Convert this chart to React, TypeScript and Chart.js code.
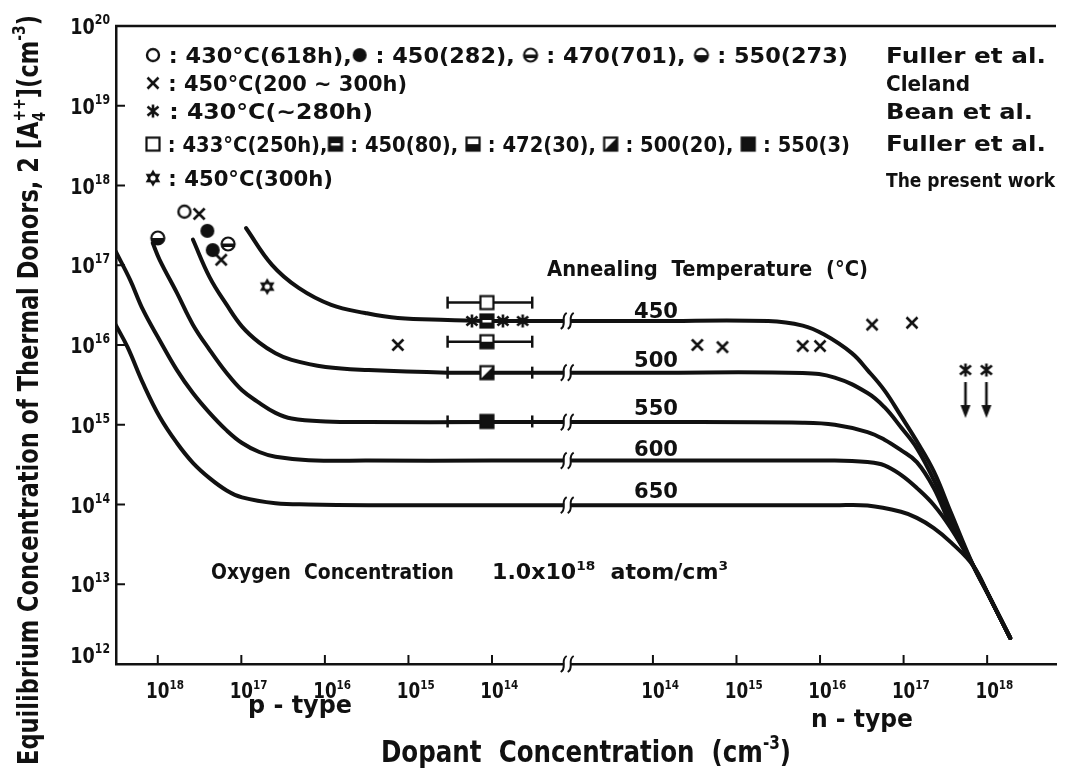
import React, { useEffect, useRef } from 'react';
import { Chart, registerables } from 'chart.js';

Chart.register(...registerables);

const W = 1065;
const H = 773;
const INK = '#111';
const FONT = '"DejaVu Sans", "Liberation Sans", sans-serif';

// ---------- axis layout (decade units along x) ----------
const P_TICK_EXP = [18, 17, 16, 15, 14];
const N_TICK_EXP = [14, 15, 16, 17, 18];
const Y_TICK_EXP = [12, 13, 14, 15, 16, 17, 18, 19, 20];
const N_OFFSET = 5.926; // axis position of n-type 10^14
const BREAK_POS = 4.9; // axis break between p- and n-type
const X_MIN = -0.5;
const X_MAX = 10.75;
const pX = (N: number) => 18 - Math.log10(N);
const nX = (N: number) => N_OFFSET + Math.log10(N) - 14;

// ---------- curves: [dopant concentration, equilibrium concentration] ----------
const CURVE_LABELS = ['450', '500', '550', '600', '650'];
const C450_P = [[8.8e16, 2.93e17], [4.3e16, 1.01e17], [2.06e16, 5.19e16], [8.4e15, 3.18e16], [3.3e15, 2.52e16], [1.34e15, 2.18e16], [3.4e14, 2.06e16], [1e14, 2.0e16]];
const C450_N = [[1e14, 2.0e16], [2.4e15, 2.0e16], [6.2e15, 1.75e16], [1.12e16, 1.35e16], [2.4e16, 7.9e15], [3.7e16, 4.85e15], [5.9e16, 2.7e15], [9.3e16, 1.29e15], [1.44e17, 6.2e14], [2.3e17, 2.6e14], [3.66e17, 8.05e13], [6.86e17, 1.69e13], [1.04e18, 7.3e12], [1.89e18, 2.12e12]];
const C500_P = [[3.8e17, 2.1e17], [2.4e17, 7.1e16], [1.5e17, 3.2e16], [9.8e16, 1.7e16], [6.1e16, 1.07e16], [3.9e16, 7.9e15], [2.5e16, 6.5e15], [9.8e15, 5.3e15], [3.0e15, 4.85e15], [3.4e14, 4.5e15], [1e14, 4.5e15]];
const C500_N = [[1e14, 4.5e15], [6.2e15, 4.45e15], [1.5e16, 3.9e15], [3.7e16, 2.5e15], [5.9e16, 1.66e15], [9.3e16, 9.3e14], [1.44e17, 5.1e14], [2.3e17, 2.03e14], [3.66e17, 6.76e13], [6.86e17, 1.69e13], [1.04e18, 7.3e12], [1.89e18, 2.12e12]];
const C550_P = [[1.15e18, 1.9e17], [9.5e17, 1.17e17], [5.9e17, 4.5e16], [3.8e17, 1.8e16], [2.4e17, 8.7e15], [1.5e17, 4.45e15], [9.8e16, 2.7e15], [6.1e16, 1.88e15], [3.9e16, 1.41e15], [2.5e16, 1.2e15], [9.8e15, 1.1e15], [3.0e15, 1.08e15], [1e14, 1.08e15]];
const C550_N = [[1e14, 1.08e15], [6.2e15, 1.06e15], [1.5e16, 1.0e15], [3.7e16, 8.1e14], [5.9e16, 6.5e14], [9.3e16, 4.8e14], [1.44e17, 3.4e14], [2.3e17, 1.61e14], [3.66e17, 5.5e13], [6.86e17, 1.69e13], [1.04e18, 7.3e12], [1.89e18, 2.12e12]];
const C600_P = [[3.2e18, 1.5e17], [2.15e18, 6.6e16], [1.5e18, 2.75e16], [9.5e17, 1.15e16], [5.9e17, 4.85e15], [3.8e17, 2.5e15], [2.4e17, 1.41e15], [1.5e17, 8.5e14], [9.8e16, 5.9e14], [6.1e16, 4.55e14], [3.9e16, 3.97e14], [1.56e16, 3.6e14], [3.0e15, 3.55e14], [1e14, 3.55e14]];
const C600_N = [[1e14, 3.55e14], [1.5e16, 3.55e14], [3.7e16, 3.4e14], [5.9e16, 3.1e14], [9.3e16, 2.35e14], [1.44e17, 1.61e14], [2.3e17, 9.86e13], [3.66e17, 5.07e13], [6.86e17, 1.69e13], [1.04e18, 7.3e12], [1.89e18, 2.12e12]];
const C650_P = [[3.2e18, 1.8e16], [2.3e18, 9.4e15], [1.5e18, 3.3e15], [9.5e17, 1.26e15], [5.9e17, 5.9e14], [3.8e17, 3.33e14], [2.4e17, 2.14e14], [1.5e17, 1.5e14], [9.8e16, 1.23e14], [3.9e16, 1.04e14], [1.56e16, 1.0e14], [3.0e15, 9.8e13], [1e14, 9.8e13]];
const C650_N = [[1e14, 9.8e13], [1.5e16, 9.8e13], [3.7e16, 9.7e13], [9.3e16, 8.1e13], [1.44e17, 6.8e13], [2.3e17, 5.07e13], [3.66e17, 3.38e13], [6.86e17, 1.69e13], [1.04e18, 7.3e12], [1.89e18, 2.12e12]];
const CURVES_P = [C450_P, C500_P, C550_P, C600_P, C650_P];
const CURVES_N = [C450_N, C500_N, C550_N, C600_N, C650_N];

// ---------- measured points ----------
const FULLER430_P = [[4.8e17, 4.7e17]];
const FULLER450_P = [[2.55e17, 2.7e17], [2.2e17, 1.55e17]];
const FULLER470_P = [[1.44e17, 1.85e17]];
const FULLER550_P = [[1.0e18, 2.2e17]];
const CLELAND_P = [[3.2e17, 4.4e17], [1.74e17, 1.17e17], [1.34e15, 1.0e16]];
const CLELAND_N = [[3.4e14, 1.0e16], [6.8e14, 9.4e15], [6.2e15, 9.7e15], [1.0e16, 9.7e15], [4.2e16, 1.8e16], [1.26e17, 1.9e16]];
const BEAN_P = [[1.74e14, 2.0e16], [7.4e13, 2.0e16], [4.3e13, 2.0e16]];
const BEAN_N_UPPER = [[5.5e17, 4.85e15], [9.8e17, 4.85e15]];
const SQ433_P = [[1.15e14, 3.4e16]];
const SQ450_P = [[1.15e14, 2.0e16]];
const SQ472_P = [[1.15e14, 1.1e16]];
const SQ500_P = [[1.15e14, 4.5e15]];
const SQ550_P = [[1.15e14, 1.1e15]];
const ERR_RANGE_P = [3.4e14, 3.3e13];
const ERR_VALUES = [3.4e16, 1.1e16, 4.5e15, 1.1e15];
const PRESENT_P = [[4.9e16, 5.4e16]];

// ---------- text ----------
const LEGEND_LINES: any[] = [
  [{ s: 'openCircle' }, ' : 430°C(618h),', { s: 'filledCircle' }, ' : 450(282), ', { s: 'circle470' }, ' : 470(701), ', { s: 'circle550' }, ' : 550(273)'],
  [{ s: 'cross' }, ' : 450°C(200 ∼ 300h)'],
  [{ s: 'asterisk' }, ' : 430°C(∼280h)'],
  [{ s: 'sqOpen' }, ' : 433°C(250h),', { s: 'sq450' }, ' : 450(80), ', { s: 'sq472' }, ' : 472(30), ', { s: 'sq500' }, ' : 500(20), ', { s: 'sq550' }, ' : 550(3)'],
  [{ s: 'hexagram' }, ' : 450°C(300h)'],
];
const LEGEND_BASE = [63, 91, 119, 152, 186];
const LEGEND_WIDTH = [703, 262, 228, 705, 188];
const SOURCES = ['Fuller et al.', 'Cleland', 'Bean et al.', 'Fuller et al.', 'The present work'];
const SOURCE_WIDTH = [160, 84, 147, 160, 169];
const SOURCE_BASE = [63, 91, 119, 151, 187];
const CURVE_LABEL_BASE = [318, 367, 415, 456, 498];

// ---------- rich text helpers ----------
function parse(str: string) {
  const out: any[] = [];
  str.split(/(\^\{[^}]*\}|_\{[^}]*\})/).forEach((p) => {
    if (!p) return;
    if (p.startsWith('^{')) out.push({ t: p.slice(2, -1), k: 'sup' });
    else if (p.startsWith('_{')) out.push({ t: p.slice(2, -1), k: 'sub' });
    else out.push({ t: p, k: '' });
  });
  return out;
}
function layoutRich(ctx: CanvasRenderingContext2D, str: string, size: number) {
  const segs = parse(str);
  const items: any[] = [];
  let x = 0;
  let prevSub: any = null;
  for (const s of segs) {
    const fs = s.k ? size * 0.62 : size;
    ctx.font = `bold ${fs}px ${FONT}`;
    const w = ctx.measureText(s.t).width;
    const dy = s.k === 'sup' ? -size * 0.45 : s.k === 'sub' ? size * 0.25 : 0;
    if (s.k === 'sup' && prevSub) {
      items.push({ ...s, fs, dy, x: prevSub.x, w });
      x = Math.max(x, prevSub.x + w);
      prevSub = null;
      continue;
    }
    const it = { ...s, fs, dy, x, w };
    items.push(it);
    prevSub = s.k === 'sub' ? it : null;
    x += w;
  }
  return { items, width: x };
}
function drawRich(ctx: CanvasRenderingContext2D, str: string, x: number, y: number, size: number, o: any = {}) {
  const { items, width } = layoutRich(ctx, str, size);
  const sx = o.width ? o.width / width : o.sx || 1;
  const total = width * sx;
  const off = o.align === 'center' ? -total / 2 : o.align === 'right' ? -total : 0;
  ctx.save();
  ctx.translate(x, y);
  if (o.rotate) ctx.rotate(o.rotate);
  ctx.translate(off, 0);
  ctx.scale(sx, 1);
  ctx.textBaseline = 'alphabetic';
  ctx.textAlign = 'left';
  for (const it of items) {
    ctx.font = `bold ${it.fs}px ${FONT}`;
    ctx.fillText(it.t, it.x, it.dy);
  }
  ctx.restore();
  return total;
}

// ---------- symbols (point styles) ----------
function mk(w: number, h: number, draw: (g: CanvasRenderingContext2D, cx: number, cy: number) => void) {
  const c = document.createElement('canvas');
  c.width = w;
  c.height = h;
  const g = c.getContext('2d')!;
  g.fillStyle = INK;
  g.strokeStyle = INK;
  draw(g, w / 2, h / 2);
  return c;
}
function drawAsterisk(g: CanvasRenderingContext2D, cx: number, cy: number) {
  g.lineWidth = 2.6;
  g.beginPath();
  g.moveTo(cx, cy - 6.5); g.lineTo(cx, cy + 6.5);
  g.moveTo(cx - 5.5, cy - 4.5); g.lineTo(cx + 5.5, cy + 4.5);
  g.moveTo(cx - 5.5, cy + 4.5); g.lineTo(cx + 5.5, cy - 4.5);
  g.stroke();
}
function sqBase(g: CanvasRenderingContext2D, cx: number, cy: number, fill: string) {
  g.fillStyle = fill;
  g.fillRect(cx - 6.5, cy - 6.5, 13, 13);
}
function sqEdge(g: CanvasRenderingContext2D, cx: number, cy: number) {
  g.lineWidth = 2.2;
  g.strokeStyle = INK;
  g.strokeRect(cx - 6.5, cy - 6.5, 13, 13);
}
function buildSymbols() {
  const S: Record<string, HTMLCanvasElement> = {};
  S.openCircle = mk(18, 18, (g, cx, cy) => {
    g.beginPath(); g.arc(cx, cy, 6, 0, Math.PI * 2);
    g.fillStyle = '#fff'; g.fill(); g.lineWidth = 2.4; g.stroke();
  });
  S.filledCircle = mk(18, 18, (g, cx, cy) => {
    g.beginPath(); g.arc(cx, cy, 7, 0, Math.PI * 2); g.fill();
  });
  S.circle470 = mk(18, 18, (g, cx, cy) => {
    g.beginPath(); g.arc(cx, cy, 6.5, 0, Math.PI * 2);
    g.fillStyle = '#fff'; g.fill();
    g.save(); g.clip(); g.fillStyle = INK; g.fillRect(cx - 8, cy - 0.5, 16, 3.5); g.restore();
    g.lineWidth = 2.2; g.stroke();
  });
  S.circle550 = mk(18, 18, (g, cx, cy) => {
    g.beginPath(); g.arc(cx, cy, 6.5, 0, Math.PI * 2);
    g.fillStyle = '#fff'; g.fill();
    g.fillStyle = INK; g.beginPath(); g.arc(cx, cy, 6.5, 0, Math.PI); g.fill();
    g.beginPath(); g.arc(cx, cy, 6.5, 0, Math.PI * 2); g.lineWidth = 2.2; g.stroke();
  });
  S.cross = mk(18, 18, (g, cx, cy) => {
    g.lineWidth = 2.6;
    g.beginPath();
    g.moveTo(cx - 5.5, cy - 5.5); g.lineTo(cx + 5.5, cy + 5.5);
    g.moveTo(cx - 5.5, cy + 5.5); g.lineTo(cx + 5.5, cy - 5.5);
    g.stroke();
  });
  S.asterisk = mk(18, 18, (g, cx, cy) => drawAsterisk(g, cx, cy));
  S.asteriskArrow = mk(20, 100, (g, cx, cy) => {
    drawAsterisk(g, cx, cy);
    g.lineWidth = 2.6;
    g.beginPath(); g.moveTo(cx, cy + 12); g.lineTo(cx, cy + 38); g.stroke();
    g.beginPath(); g.moveTo(cx - 5, cy + 35); g.lineTo(cx + 5, cy + 35); g.lineTo(cx, cy + 48); g.closePath(); g.fill();
  });
  S.sqOpen = mk(18, 18, (g, cx, cy) => { sqBase(g, cx, cy, '#fff'); sqEdge(g, cx, cy); });
  S.sq450 = mk(18, 18, (g, cx, cy) => {
    sqBase(g, cx, cy, INK);
    g.fillStyle = '#fff'; g.fillRect(cx - 4.5, cy - 1, 9, 2.5);
    sqEdge(g, cx, cy);
  });
  S.sq472 = mk(18, 18, (g, cx, cy) => {
    sqBase(g, cx, cy, '#fff');
    g.fillStyle = INK; g.fillRect(cx - 6.5, cy, 13, 6.5);
    sqEdge(g, cx, cy);
  });
  S.sq500 = mk(18, 18, (g, cx, cy) => {
    sqBase(g, cx, cy, '#fff');
    g.fillStyle = INK; g.beginPath();
    g.moveTo(cx + 6.5, cy - 6.5); g.lineTo(cx + 6.5, cy + 6.5); g.lineTo(cx - 6.5, cy + 6.5); g.closePath(); g.fill();
    sqEdge(g, cx, cy);
  });
  S.sq550 = mk(18, 18, (g, cx, cy) => { sqBase(g, cx, cy, INK); sqEdge(g, cx, cy); });
  S.hexagram = mk(20, 20, (g, cx, cy) => {
    const r = 8.5;
    for (const a0 of [-90, 90]) {
      g.beginPath();
      for (let k = 0; k < 3; k++) {
        const a = ((a0 + k * 120) * Math.PI) / 180;
        const px = cx + r * Math.cos(a);
        const py = cy + r * Math.sin(a);
        if (k === 0) g.moveTo(px, py); else g.lineTo(px, py);
      }
      g.closePath(); g.fill();
    }
    g.fillStyle = '#fff'; g.beginPath(); g.arc(cx, cy, 2.6, 0, Math.PI * 2); g.fill();
  });
  return S;
}

// ---------- drawing helpers ----------
function breakMark(ctx: CanvasRenderingContext2D, bx: number, by: number) {
  ctx.save();
  ctx.fillStyle = '#fff';
  ctx.fillRect(bx - 3, by - 3, 6, 6);
  ctx.strokeStyle = INK;
  ctx.lineWidth = 2;
  for (const dx of [-3.5, 3.5]) {
    const cx = bx + dx;
    ctx.beginPath();
    ctx.moveTo(cx - 3, by + 8);
    ctx.bezierCurveTo(cx + 4, by + 4, cx - 4, by - 4, cx + 3, by - 8);
    ctx.stroke();
  }
  ctx.restore();
}

function legendLine(ctx: CanvasRenderingContext2D, S: any, items: any[], x0: number, base: number, size: number, target: number) {
  const symW = 16;
  let textW = 0;
  let symTotal = 0;
  for (const it of items) {
    if (typeof it === 'string') textW += layoutRich(ctx, it, size).width;
    else symTotal += symW;
  }
  const sx = (target - symTotal) / textW;
  let x = x0;
  for (const it of items) {
    if (typeof it === 'string') {
      x += drawRich(ctx, it, x, base, size, { sx });
    } else {
      const img = S[it.s];
      ctx.drawImage(img, x + symW / 2 - img.width / 2, base - size * 0.36 - img.height / 2);
      x += symW;
    }
  }
}

function makeDecor(S: any) {
  return {
    id: 'decor',
    afterDraw(chart: any) {
      const { ctx, chartArea: a } = chart;
      const xs = chart.scales.x;
      const ys = chart.scales.y;
      ctx.save();
      ctx.strokeStyle = INK;
      ctx.fillStyle = INK;
      // top frame line
      ctx.lineWidth = 2.5;
      ctx.beginPath();
      ctx.moveTo(a.left - 1, a.top);
      ctx.lineTo(a.right, a.top);
      ctx.stroke();

      // y ticks (inward) and labels
      ctx.lineWidth = 2;
      for (const e of Y_TICK_EXP) {
        const py = ys.getPixelForValue(10 ** e);
        if (e > 12 && e < 20) {
          ctx.beginPath(); ctx.moveTo(a.left, py); ctx.lineTo(a.left + 9, py); ctx.stroke();
        }
        const base = Math.min(py + 8, a.bottom - 1);
        drawRich(ctx, `10^{${e}}`, a.left - 6, base, 22, { align: 'right', sx: 0.8 });
      }

      // x ticks (inward) and labels
      const xTick = (px: number, e: number) => {
        ctx.lineWidth = 2;
        ctx.beginPath(); ctx.moveTo(px, a.bottom); ctx.lineTo(px, a.bottom - 9); ctx.stroke();
        const w10 = layoutRich(ctx, '10', 21).width * 0.8;
        drawRich(ctx, `10^{${e}}`, px - w10 / 2, 698, 21, { sx: 0.8 });
      };
      P_TICK_EXP.forEach((e) => xTick(xs.getPixelForValue(pX(10 ** e)), e));
      N_TICK_EXP.forEach((e) => xTick(xs.getPixelForValue(nX(10 ** e)), e));

      // axis breaks
      const bx = xs.getPixelForValue(BREAK_POS);
      breakMark(ctx, bx, a.bottom);
      for (let i = 0; i < CURVES_P.length; i++) {
        const meta = chart.getDatasetMeta(i);
        const pts = meta.data;
        const raw = chart.data.datasets[i].data;
        for (let j = 0; j < raw.length - 1; j++) {
          if (raw[j].x <= BREAK_POS && raw[j + 1].x > BREAK_POS) {
            const t = (bx - pts[j].x) / (pts[j + 1].x - pts[j].x);
            breakMark(ctx, bx, pts[j].y + t * (pts[j + 1].y - pts[j].y));
            break;
          }
        }
      }

      ctx.fillStyle = INK;
      // legend block
      LEGEND_LINES.forEach((items, i) => legendLine(ctx, S, items, 145, LEGEND_BASE[i], 22, LEGEND_WIDTH[i]));
      SOURCES.forEach((s, i) => drawRich(ctx, s, 886, SOURCE_BASE[i], i === 4 ? 20 : 22, { width: SOURCE_WIDTH[i] }));

      // annotations
      drawRich(ctx, 'Annealing  Temperature  (°C)', 547, 276, 22, { width: 321 });
      CURVE_LABELS.forEach((t, i) => drawRich(ctx, t, 634, CURVE_LABEL_BASE[i], 22, { width: 44 }));
      drawRich(ctx, 'Oxygen  Concentration', 211, 579, 21, { width: 243 });
      drawRich(ctx, '1.0x10^{18}  atom/cm^{3}', 492, 579, 21, { width: 236 });
      drawRich(ctx, 'p - type', 300, 713, 25, { align: 'center', width: 104 });
      drawRich(ctx, 'n - type', 862, 727, 25, { align: 'center', width: 102 });
      drawRich(ctx, 'Dopant  Concentration  (cm^{-3})', 381, 762, 30, { width: 410 });
      drawRich(ctx, 'Equilibrium Concentration of Thermal Donors, 2 [A_{4}^{++}](cm^{-3})', 38, 390, 29, {
        align: 'center', rotate: -Math.PI / 2, width: 750,
      });
      ctx.restore();
    },
  };
}

const toXY = (arr: number[][], side: 'p' | 'n') =>
  arr.map(([N, v]) => ({ x: side === 'p' ? pX(N) : nX(N), y: v }));

export default function App() {
  const ref = useRef<HTMLCanvasElement>(null);
  useEffect(() => {
    const S = buildSymbols();
    const curveSets = CURVES_P.map((p, i) => ({
      label: CURVE_LABELS[i],
      data: [...toXY(p, 'p'), ...toXY(CURVES_N[i], 'n')],
      showLine: true,
      borderColor: INK,
      borderWidth: 4,
      pointRadius: 0,
      tension: 0.4,
      borderCapStyle: 'round',
      borderJoinStyle: 'round',
      fill: false,
      order: 3,
    }));
    const errSets = ERR_VALUES.map((v) => ({
      label: 'err',
      data: ERR_RANGE_P.map((N) => ({ x: pX(N), y: v })),
      showLine: true,
      borderColor: INK,
      borderWidth: 2.5,
      pointStyle: 'line',
      pointRotation: 90,
      pointRadius: 6,
      pointBorderWidth: 2.5,
      pointBorderColor: INK,
      order: 2,
    }));
    const mark = (label: string, data: any[], sym: string) => ({
      label, data, showLine: false, pointStyle: S[sym], pointRadius: 8, order: 0,
    });
    const markerSets = [
      mark('430 (618h)', toXY(FULLER430_P, 'p'), 'openCircle'),
      mark('450 (282)', toXY(FULLER450_P, 'p'), 'filledCircle'),
      mark('470 (701)', toXY(FULLER470_P, 'p'), 'circle470'),
      mark('550 (273)', toXY(FULLER550_P, 'p'), 'circle550'),
      mark('Cleland', [...toXY(CLELAND_P, 'p'), ...toXY(CLELAND_N, 'n')], 'cross'),
      mark('Bean', toXY(BEAN_P, 'p'), 'asterisk'),
      mark('Bean upper', toXY(BEAN_N_UPPER, 'n'), 'asteriskArrow'),
      mark('433 (250h)', toXY(SQ433_P, 'p'), 'sqOpen'),
      mark('450 (80)', toXY(SQ450_P, 'p'), 'sq450'),
      mark('472 (30)', toXY(SQ472_P, 'p'), 'sq472'),
      mark('500 (20)', toXY(SQ500_P, 'p'), 'sq500'),
      mark('550 (3)', toXY(SQ550_P, 'p'), 'sq550'),
      mark('present', toXY(PRESENT_P, 'p'), 'hexagram'),
    ];
    const chart = new Chart(ref.current!, {
      type: 'scatter',
      data: { datasets: [...curveSets, ...errSets, ...markerSets] as any },
      options: {
        animation: false,
        responsive: false,
        events: [],
        layout: { padding: { left: 0, top: 26, right: 2, bottom: 0 } },
        plugins: { legend: { display: false }, tooltip: { enabled: false } },
        scales: {
          x: {
            type: 'linear',
            min: X_MIN,
            max: X_MAX,
            grid: { display: false, drawTicks: false },
            border: { display: true, color: INK, width: 2.5 },
            ticks: { display: false },
            afterFit: (s: any) => { s.height = H - 664; },
          },
          y: {
            type: 'logarithmic',
            min: 1e12,
            max: 1e20,
            grid: { display: false, drawTicks: false },
            border: { display: true, color: INK, width: 2.5 },
            ticks: { display: false },
            afterFit: (s: any) => { s.width = 116; },
          },
        },
      } as any,
      plugins: [makeDecor(S)],
    });
    return () => chart.destroy();
  }, []);
  return (
    <div style={{ position: 'fixed', left: 0, top: 0, width: W, height: H, background: '#fff' }}>
      <canvas ref={ref} width={W} height={H} style={{ display: 'block', width: W, height: H }} />
    </div>
  );
}
